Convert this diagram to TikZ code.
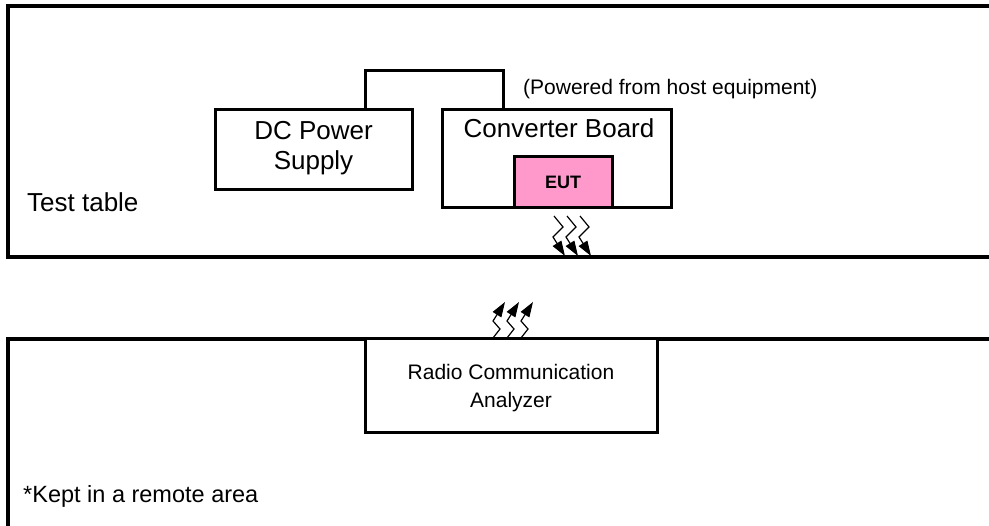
\documentclass[tikz,border=0pt]{standalone}
\usepackage{fontspec}
\setmainfont{Liberation Sans}
\usetikzlibrary{arrows.meta}
\definecolor{eutpink}{RGB}{255,153,204}
\begin{document}
\begin{tikzpicture}[x=1pt,y=-1pt,
  outer/.style={line width=4pt},
  box/.style={draw,line width=3pt,inner sep=0pt,fill=white},
  wire/.style={line width=3pt},
  big/.style={font=\fontsize{26}{30}\selectfont,inner sep=0pt,anchor=base},
  mid/.style={font=\fontsize{21}{28}\selectfont,inner sep=0pt,anchor=base},
  wave/.style={line width=1.2pt,-{Triangle[length=15pt,width=10pt]}}]
\useasboundingbox (0,0) rectangle (989,526);
% outer areas
\draw[outer] (989,6) -- (8,6) -- (8,257) -- (989,257);
\draw[outer] (989,339) -- (8,339) -- (8,526);
% boxes
\node[box,minimum width=197,minimum height=80] (dc) at (313.5,150) {};
\node[box,minimum width=229,minimum height=98] (conv) at (556.5,159) {};
\node[box,fill=eutpink,minimum width=98,minimum height=51] (eut) at (563,182.5) {};
\node[box,minimum width=292,minimum height=94] (rca) at (511,386) {};
% power wire
\coordinate (p1) at (365,71);
\coordinate (p2) at (503,71);
\draw[wire] (dc.north -| p1) -- (p1) -- (p2) -- (conv.north -| p2);
% texts
\node[big] (t1) at (313.5,140) {DC Power};
\node[big] (t2) at (313.5,170) {Supply};
\node[big] (t3) at (559,138) {Converter Board};
\node[font=\bfseries\fontsize{18}{20}\selectfont,inner sep=0pt] (t4) at (eut.center) {EUT};
\node[big,anchor=base west] (t5) at (27,212) {Test table};
\node[mid,anchor=base west] (t6) at (523,95) {(Powered from host equipment)};
\node[mid] (t7) at (511,380) {Radio Communication};
\node[mid] (t8) at (511,408) {Analyzer};
\node[font=\fontsize{23.5}{28}\selectfont,inner sep=0pt,anchor=base west] (t9) at (23,503) {*Kept in a remote area};
% radio waves
\foreach \i in {0,1,2} {
  \coordinate (a\i) at (554+13*\i,216);
  \coordinate (b\i) at (563+13*\i,227);
  \coordinate (c\i) at (553+13*\i,237);
  \coordinate (d\i) at (565+13*\i,256);
  \draw[wave] (a\i) -- (b\i) -- (c\i) -- (d\i);
  \coordinate (e\i) at (493+14*\i,338);
  \coordinate (f\i) at (500+14*\i,329);
  \coordinate (g\i) at (493+14*\i,321);
  \coordinate (h\i) at (505+14*\i,302);
  \draw[wave] (e\i) -- (f\i) -- (g\i) -- (h\i);
}
\end{tikzpicture}
\end{document}
